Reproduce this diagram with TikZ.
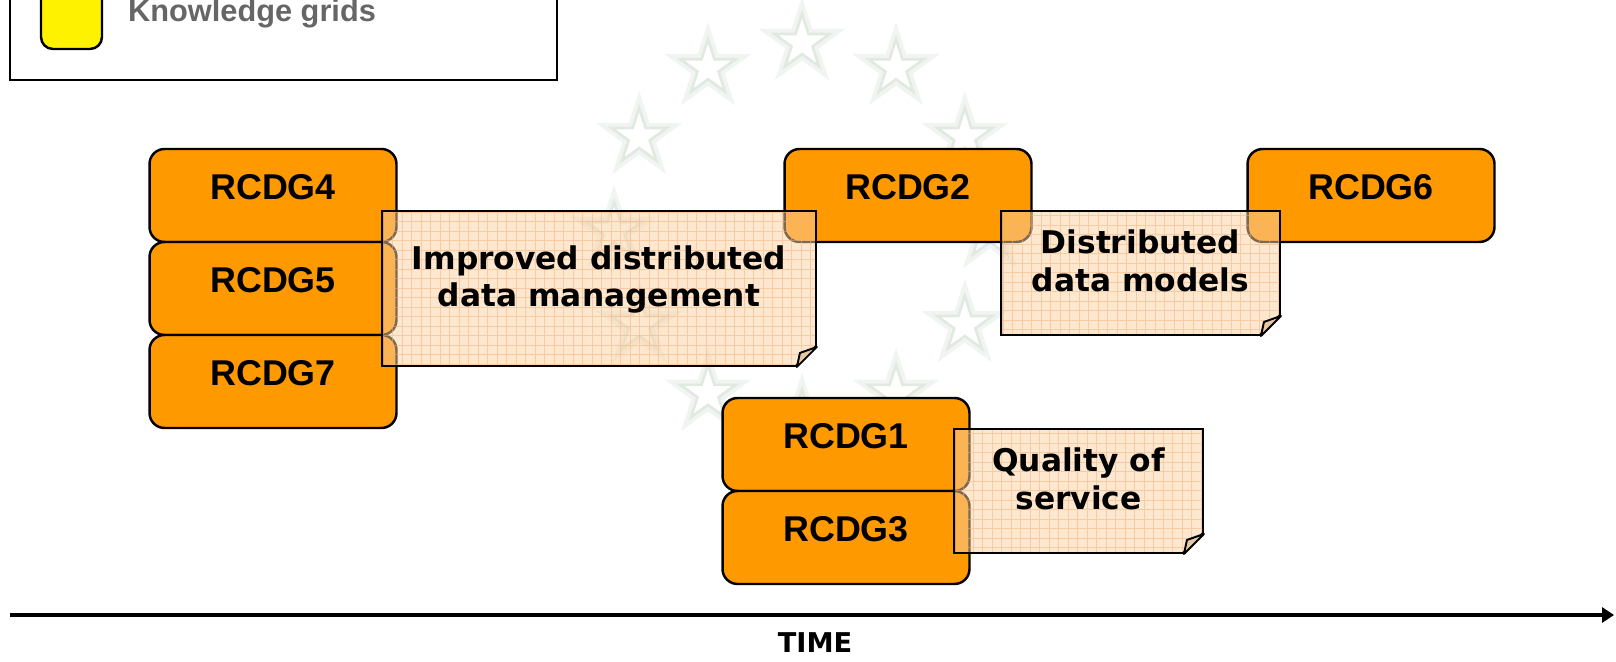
\documentclass[tikz,border=0pt]{standalone}
\usepackage{fontspec}
\setmainfont{Liberation Sans}
\newfontfamily\notefont{DejaVu Sans}
\usetikzlibrary{shapes.geometric, shapes.misc, arrows.meta}
\definecolor{rcdgorange}{HTML}{FF9900}
\definecolor{notefill}{HTML}{FBD0A0}
\definecolor{notegrid}{HTML}{F2B07A}
\definecolor{notefold}{HTML}{E9C7A4}
\definecolor{starglow}{HTML}{E1E9E1}
\definecolor{starhalo}{HTML}{F1F5F1}
\definecolor{legendgray}{HTML}{666666}
\tikzset{%
    rcdg/.style={draw, line width=1.4pt, fill=rcdgorange, rounded corners=0.3cm,
        minimum width=4.94cm, minimum height=1.86cm, inner sep=0pt,
        font=\fontsize{20.4}{24}\selectfont\bfseries, text depth=9.6pt},
    note/.style={chamfered rectangle, chamfered rectangle corners=south east,
        chamfered rectangle xsep=0.2cm, chamfered rectangle ysep=0.2cm,
        draw, line width=1.1pt, fill=notefill, fill opacity=0.5, draw opacity=1, text opacity=1,
        inner sep=0pt, align=center, text depth=14pt,
        font=\notefont\bfseries\fontsize{17.8}{21.5}\selectfont,
        path picture={\draw[notegrid, draw opacity=0.5, step=0.19cm, line width=0.4pt]
            (path picture bounding box.south west) grid (path picture bounding box.north east);}},
    fold/.style={draw, line width=1.1pt, fill=notefold, line join=round},
    eustar/.style={star, star points=5, star point ratio=2.618, minimum size=1.16cm,
        inner sep=0pt, fill=white, draw=starglow, line width=1.5pt,
        preaction={draw=starhalo, line width=6pt}},
    timeline/.style={line width=2.2pt, -{Triangle[length=0.24cm, width=0.3cm]}}
}
\begin{document}
\begin{tikzpicture}[x=0.02cm, y=0.02cm]
        \useasboundingbox (0,0) rectangle (1616,662);
        \foreach \a in {0,30,...,330}
            \node[eustar] (star\a) at ([shift={(\a:188)}]802,431){};
        \draw[line width=1.1pt] (10,582) rectangle (557,700);
        \draw[line width=1.4pt, fill=yellow, rounded corners=0.24cm] (41,613) rectangle (102,720);
        \node[anchor=base west, text=legendgray, font=\fontsize{17.5}{21}\selectfont\bfseries] (kg) at (122,640){Knowledge grids};
        \node[rcdg] (r4) at (273,466.5){RCDG4};
        \node[rcdg] (r5) at (273,373.5){RCDG5};
        \node[rcdg] (r7) at (273,280.5){RCDG7};
        \node[rcdg] (r2) at (908,466.5){RCDG2};
        \node[rcdg] (r6) at (1371,466.5){RCDG6};
        \node[rcdg] (r1) at (846,217.5){RCDG1};
        \node[rcdg] (r3) at (846,124.5){RCDG3};
        \node[note, minimum width=8.68cm, minimum height=3.1cm] (idm) at (599,373.5){Improved distributed\\data management};
        \node[note, minimum width=5.58cm, minimum height=2.48cm] (ddm) at (1140.5,389){Distributed\\data models};
        \node[note, minimum width=4.98cm, minimum height=2.48cm] (qos) at (1078.5,171){Quality of\\service};
        \foreach \n in {idm,ddm,qos}{
            \coordinate (\n c) at (\n.east |- \n.south);
            \path[fold] ([shift={(0,20)}]\n c) -- ([shift={(-17,14)}]\n c) -- ([shift={(-20,0)}]\n c) -- cycle;
        }
        \coordinate (t0) at (10,47);
        \coordinate (t1) at (1614,47);
        \draw[timeline] (t0) -- (t1);
        \node[anchor=base, font=\notefont\bfseries\fontsize{15.5}{18}\selectfont] (time) at (815,9){TIME};
    \end{tikzpicture}
\end{document}
